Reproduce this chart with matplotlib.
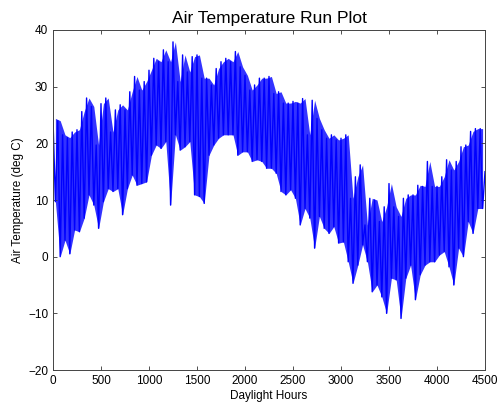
import matplotlib
matplotlib.use('Agg')
import matplotlib.pyplot as plt

# peak and trough, one pair per 50 daylight hours
bin_start = list(range(0, 4500, 50))
temp_hi = [24.4, 24.0, 21.5, 21.0, 22.0, 22.4, 25.6, 28.0, 26.5, 19.7,
           27.0, 28.0, 22.0, 25.9, 26.8,
           25.9, 29.1, 31.8, 29.4, 30.9, 32.9, 35.0, 34.4, 36.5, 34.4,
           37.9, 30.9, 35.6, 32.6, 35.3,
           35.6, 31.5, 31.5, 30.3, 33.2, 34.4, 35.0, 34.4, 36.2, 33.5,
           32.0, 29.4, 30.3, 31.5, 31.5,
           31.8, 28.8, 29.1, 27.1, 27.1, 27.4, 27.1, 27.9, 21.5, 27.6,
           24.4, 22.4, 20.9, 21.5, 20.6,
           20.9, 21.5, 10.3, 14.1, 16.2, 5.6, 10.3, 10.0, 6.2, 8.8,
           12.9, 8.8, 7.1, 10.3, 10.9,
           10.9, 12.6, 12.4, 16.8, 12.4, 12.4, 14.1, 17.1, 15.3, 16.8,
           19.4, 19.7, 22.1, 22.6, 22.6]
temp_lo = [9.7, 0.0, 2.9, 0.5, 4.7, 4.4, 6.8, 10.9, 9.1, 5.0,
           9.7, 12.0, 11.5, 12.0, 7.4,
           12.0, 14.4, 12.6, 12.9, 13.2, 17.9, 19.7, 19.1, 20.3, 9.1,
           21.5, 18.8, 19.4, 20.3, 10.9,
           10.6, 9.4, 17.9, 19.7, 20.9, 21.5, 21.5, 21.5, 17.9, 18.5,
           18.5, 16.8, 17.1, 16.8, 15.6,
           15.6, 14.7, 11.5, 10.9, 11.8, 10.3, 5.6, 8.5, 6.8, 1.5,
           7.1, 5.0, 4.1, 5.3, 2.4,
           2.6, -0.9, -4.7, -1.5, 2.1, -0.9, -6.2, -5.0, -7.1, -10.0,
           -3.8, -4.1, -10.9, -3.8, -1.5,
           -7.6, -3.2, -1.5, -0.9, -0.9, 0.3, 0.9, -1.8, -5.0, 1.5,
           0.0, 6.2, 4.1, 8.5, 8.5]
last_hour = 4500
last_temp = 15.0

# build the run: peak at start of bin, trough half way through
hours = []
temps = []
for h, hi, lo in zip(bin_start, temp_hi, temp_lo):
    hours += [h, h + 25]
    temps += [hi, lo]
hours.append(last_hour)
temps.append(last_temp)
mid = [h + 25 for h in bin_start]

plt.rcParams['font.family'] = ['Liberation Sans', 'DejaVu Sans']

fig = plt.figure(figsize=(4.98, 4.08), dpi=100)
ax = fig.add_axes([0.1064, 0.0931, 0.8675, 0.8334])
# hourly trace too dense to resolve: band for the spread, line for the run
ax.fill_between(mid, temp_lo, temp_hi, color=(0, 0, 1), alpha=0.8,
                linewidth=0)
ax.plot(hours, temps, color=(0, 0, 1), linewidth=1.0)

ax.set_xlim(0, 4500)
ax.set_ylim(-20, 40)
ax.set_xticks(range(0, 4501, 500))
ax.set_yticks(range(-20, 41, 10))
ax.tick_params(direction='in', top=True, right=True, labelsize=8.5,
               length=3, width=0.6, colors='#333333', labelcolor='black')
for s in ax.spines.values():
    s.set_linewidth(0.7)
    s.set_color('#444444')

ax.set_title('Air Temperature Run Plot', fontsize=12.5, pad=5)
ax.set_xlabel('Daylight Hours', fontsize=8.5, labelpad=2)
ax.set_ylabel('Air Temperature (deg C)', fontsize=8.5, labelpad=3)

fig.savefig('out.png', dpi=100)
